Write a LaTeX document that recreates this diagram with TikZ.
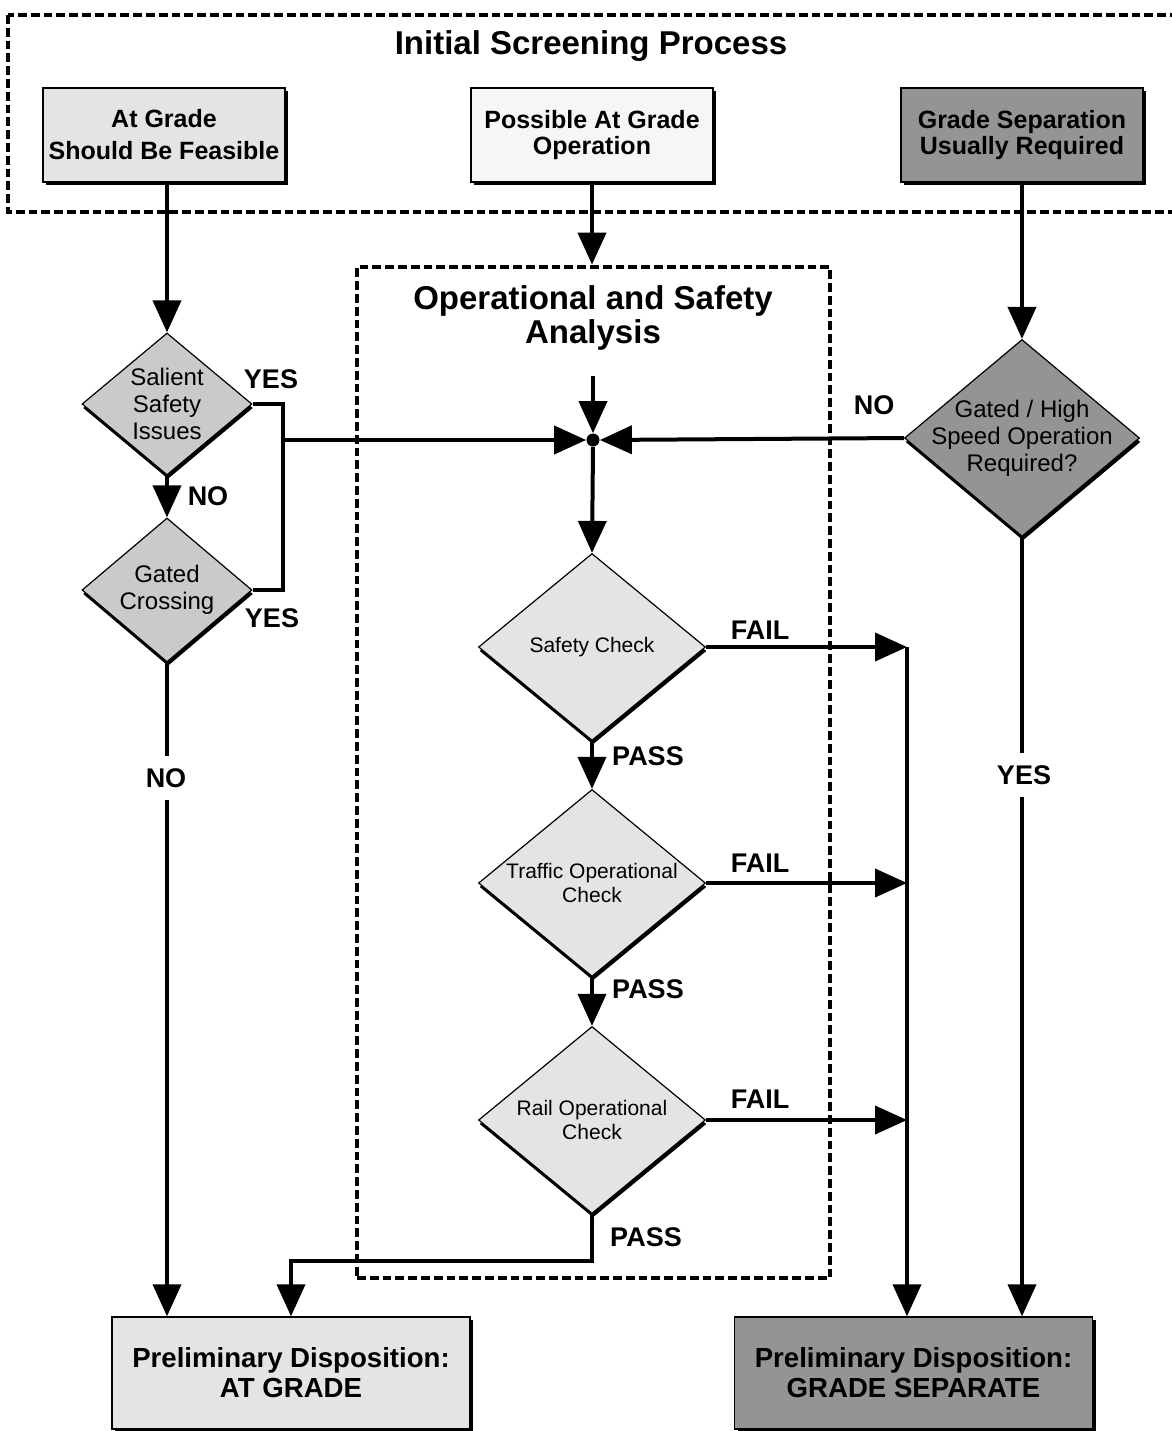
\documentclass[tikz,border=0pt]{standalone}
\usepackage{fontspec}
\setmainfont{Liberation Sans}
\usepackage{tikz}
\usetikzlibrary{arrows.meta,shapes.geometric,positioning,shadows}
\tikzset{>={Triangle[length=16pt,width=14pt]}}
\definecolor{lgray}{RGB}{228,228,228}
\definecolor{pgray}{RGB}{246,246,246}
\definecolor{mgray}{RGB}{202,202,202}
\definecolor{dgray}{RGB}{148,148,148}
\tikzset{
	shad/.style={drop shadow={shadow xshift=1.6pt,shadow yshift=-1.6pt,fill=black,opacity=1}},
	dshad/.style={drop shadow={shadow xshift=0.5pt,shadow yshift=-2pt,fill=black,opacity=1}},
	box/.style={draw,line width=.7pt,shad,align=center,inner sep=0pt,minimum width=121pt,minimum height=47pt,font=\fontsize{12.5}{13}\selectfont\bfseries},
	endbox/.style={box,minimum width=179pt,minimum height=56pt,font=\fontsize{13.8}{15}\selectfont\bfseries},
	dec/.style={diamond,draw,line width=.6pt,dshad,align=center,inner sep=-14pt,font=\fontsize{12}{13.5}\selectfont},
	chk/.style={dec,fill=lgray,minimum width=113.5pt,minimum height=93.5pt,font=\fontsize{10.5}{12}\selectfont},
	lbl/.style={font=\fontsize{13.5}{14}\selectfont\bfseries,inner sep=1pt},
	ttl/.style={font=\fontsize{16.5}{17}\selectfont\bfseries,align=center},
	dashbox/.style={line width=2.4pt,dash pattern=on 4.4pt off 2pt},
	flow/.style={line width=2pt},
}

\begin{document}
\begin{tikzpicture}[x=0.5pt,y=-0.5pt]
	\useasboundingbox (0,0) rectangle (1172,1431);
	\draw[dashbox] (8,15) rectangle (1190,212);
	\node[ttl] (isp) at (591,46) {Initial Screening Process};
	\node[box,fill=lgray,font=\fontsize{12.5}{16}\selectfont\bfseries] (ag) at (164,135) {At Grade\\Should Be Feasible};
	\node[box,fill=pgray] (pag) at (592,135) {Possible At Grade\\Operation};
	\node[box,fill=dgray] (gs) at (1022,135) {Grade Separation\\Usually Required};

	\node[dashbox,draw,minimum width=236.5pt,minimum height=505.5pt,inner sep=0pt] (osa) at (593.5,772.5) {};
	\node[ttl] (osat) at (593,318) {Operational and Safety\\Analysis};
	\coordinate (tin) at (593,376);
	\node[circle,fill,inner sep=0pt,minimum size=6.5pt] (j) at (593,440) {};

	\node[dec,fill=mgray,minimum width=85pt,minimum height=71pt] (sal) at (167,404) {Salient\\Safety\\Issues};
	\node[dec,fill=mgray,minimum width=85pt,minimum height=72pt] (gc) at (167,590) {Gated\\Crossing};
	\node[dec,fill=dgray,minimum width=117.5pt,minimum height=98.5pt] (ghs) at (1022,438) {Gated / High\\Speed Operation\\Required?};

	\node[chk] (sc) at (592,647) {Safety Check};
	\node[chk] (toc) at (592,883) {Traffic Operational\\Check};
	\node[chk] (roc) at (592,1120) {Rail Operational\\Check};

	\node[endbox,fill=lgray] (pda) at (291,1373) {Preliminary Disposition:\\AT GRADE};
	\node[endbox,fill=dgray] (pdg) at (913.5,1373) {Preliminary Disposition:\\GRADE SEPARATE};

	\coordinate (yb) at (283,440);
	\coordinate (fx) at (907,647);
	\coordinate (rp) at (291,1261);

	\draw[->,flow] (sal.north |- ag.south) -- (sal.north);
	\draw[->,flow] (pag.south) -- (pag.south |- osa.north);
	\draw[->,flow] (gs.south) -- (ghs.north);
	\draw[->,flow] (tin) -- (j.north);
	\draw[flow] (sal.east) -- (sal.east -| yb) -- (gc.east -| yb) -- (gc.east);
	\draw[->,flow] (yb) -- (j.west);
	\draw[->,flow] (ghs.west) -- (j.east);
	\draw[->,flow] (sal.south) -- (gc.north);
	\draw[->,flow] (j.south) -- (sc.north);
	\draw[->,flow] (sc.south) -- (toc.north);
	\draw[->,flow] (toc.south) -- (roc.north);
	\draw[->,flow] (sc.east) -- (sc.east -| fx);
	\draw[->,flow] (toc.east) -- (toc.east -| fx);
	\draw[->,flow] (roc.east) -- (roc.east -| fx);
	\draw[->,flow] (fx) -- (fx |- pdg.north);
	\draw[->,flow] (ghs.south) -- (ghs.south |- pdg.north);
	\draw[->,flow] (gc.south) -- (gc.south |- pda.north);
	\draw[->,flow] (roc.south) |- (rp) -- (pda.north);

	\node[lbl] (ys1) at (271,379) {YES};
	\node[lbl] (ys2) at (272,618) {YES};
	\node[lbl] (no1) at (208,496) {NO};
	\node[lbl,fill=white,inner sep=6pt] (no2) at (166,778) {NO};
	\node[lbl] (no3) at (874,405) {NO};
	\node[lbl,fill=white,inner sep=6pt] (ys3) at (1024,775) {YES};
	\node[lbl] (fl1) at (760,630) {FAIL};
	\node[lbl] (fl2) at (760,863) {FAIL};
	\node[lbl] (fl3) at (760,1099) {FAIL};
	\node[lbl] (ps1) at (648,756) {PASS};
	\node[lbl] (ps2) at (648,989) {PASS};
	\node[lbl] (ps3) at (646,1237) {PASS};
\end{tikzpicture}
\end{document}
